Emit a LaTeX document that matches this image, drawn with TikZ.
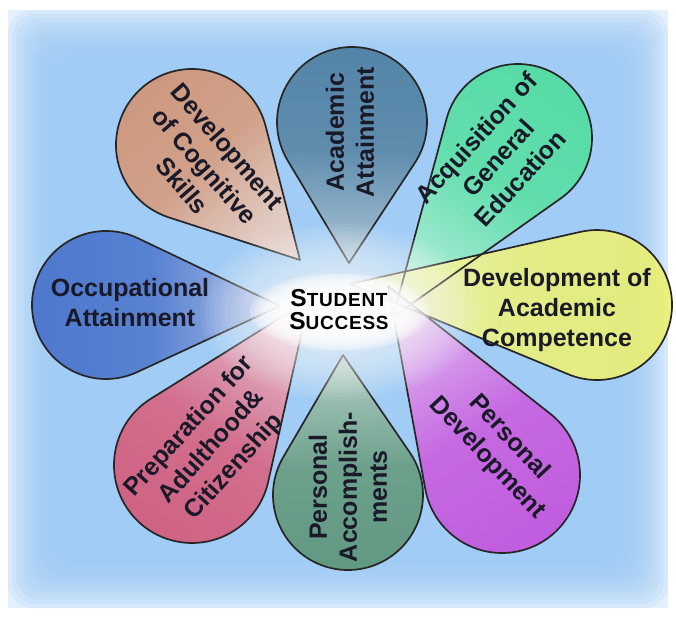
\documentclass[tikz,border=0pt]{standalone}
\usepackage{fontspec}
\setmainfont{Liberation Sans}
\usetikzlibrary{calc}
\definecolor{cogn}{RGB}{212,146,112}
\definecolor{acad}{RGB}{72,122,156}
\definecolor{acqu}{RGB}{76,222,156}
\definecolor{comp}{RGB}{236,240,108}
\definecolor{pdev}{RGB}{198,78,220}
\definecolor{pacc}{RGB}{88,146,114}
\definecolor{prep}{RGB}{214,84,116}
\definecolor{occu}{RGB}{64,108,200}
\definecolor{bgblue}{RGB}{156,203,245}
\definecolor{bgedge}{RGB}{228,240,253}
\definecolor{textcol}{RGB}{25,25,40}
\newcommand\petalcalc[5]{%
  \pgfmathsetmacro\pTy{621-#2}%
  \pgfmathsetmacro\pCy{621-#4}%
  \pgfmathsetmacro\pang{atan2(\pCy-\pTy,#3-#1)}%
  \pgfmathsetmacro\pdist{veclen(\pCy-\pTy,#3-#1)}%
  \pgfmathsetmacro\pbeta{asin(#5/\pdist)}%
  \pgfmathsetmacro\pa{\pang-90-\pbeta}%
  \pgfmathsetmacro\pb{\pang+90+\pbeta}%
  \pgfmathsetmacro\psh{\pang-90}%
}
\newcommand\petalpath[5]{(#1,\pTy) -- ($(#3,\pCy)+(\pa:#5pt)$) arc[start angle=\pa, end angle=\pb, radius=#5pt] -- cycle}
\begin{document}
\begin{tikzpicture}[x=1pt,y=1pt,
  petalfill/.style={fill opacity=0.88},
  petalline/.style={draw=black!85, line width=1.7pt, line join=round},
  label/.style={font=\bfseries\fontsize{25}{30}\selectfont, align=center, text=textcol, inner sep=0pt}]
\useasboundingbox (0,0) rectangle (676,621);
\fill[white] (0,0) rectangle (676,621);
% background
\fill[bgedge] (8,13) rectangle (668,611);
\foreach \i in {0,...,11}{
  \fill[bgblue, fill opacity=0.17, rounded corners=24pt] (8+4*\i,13+4*\i) rectangle (668-4*\i,611-4*\i);
}
% petals: fills
\foreach \tx/\ty/\cx/\cy/\rr/\col in {
  300/260/192/145/76/cogn, 349/263/352/122/75/acad, 393/317/518/138/74/acqu,
  350/284/597/305/75/comp, 388/286/502/475/78/pdev, 343/355/348/495/75/pacc,
  309/300/192/465/78/prep, 280/306/106/305/74/occu}{
  \petalcalc{\tx}{\ty}{\cx}{\cy}{\rr}
  \shade[petalfill, top color=\col, bottom color=\col!45!white, middle color=\col!92!white, shading angle=\psh] \petalpath{\tx}{\ty}{\cx}{\cy}{\rr};
}
% petals: outlines
\foreach \tx/\ty/\cx/\cy/\rr in {
  300/260/192/145/76, 349/263/352/122/75, 393/317/518/138/74,
  350/284/597/305/75, 388/286/502/475/78, 343/355/348/495/75,
  309/300/192/465/78, 280/306/106/305/74}{
  \petalcalc{\tx}{\ty}{\cx}{\cy}{\rr}
  \draw[petalline] \petalpath{\tx}{\ty}{\cx}{\cy}{\rr};
}
% central glow
\foreach \i in {0,...,14}{
  \fill[white, fill opacity=0.06] (340,309) ellipse [x radius=140-5*\i, y radius=88-3.5*\i];
}
\foreach \i in {0,...,9}{
  \fill[white, fill opacity=0.25] (340,309) ellipse [x radius=90-4*\i, y radius=39-2*\i];
}
% labels
\node[label, rotate=-49] (cogt) at (205,455) {Development\\of Cognitive\\Skills};
\node[label, rotate=90] (acat) at (350,489) {Academic\\Attainment};
\node[label, rotate=47.5] (acqt) at (498,463) {Acquisition of\\General\\Education};
\node[label] (compt) at (557,311) {Development of\\Academic\\Competence};
\node[label, rotate=-47] (pdevt) at (498,173) {Personal\\Development};
\node[label, rotate=90] (pacct) at (348,134) {Personal\\Accomplish-\\ments};
\node[label, rotate=48] (prept) at (212,174) {Preparation for\\Adulthood\&\\Citizenship};
\node[label] (occt) at (130,318) {Occupational\\Attainment};
\node[font=\bfseries\fontsize{19}{23}\selectfont\addfontfeatures{LetterSpace=4}, align=center, text=black, inner sep=0pt] (succ) at (339,311)
  {{\fontsize{24.5}{23}\selectfont S}TUDENT\\{\fontsize{24.5}{23}\selectfont S}UCCESS};
\end{tikzpicture}
\end{document}
